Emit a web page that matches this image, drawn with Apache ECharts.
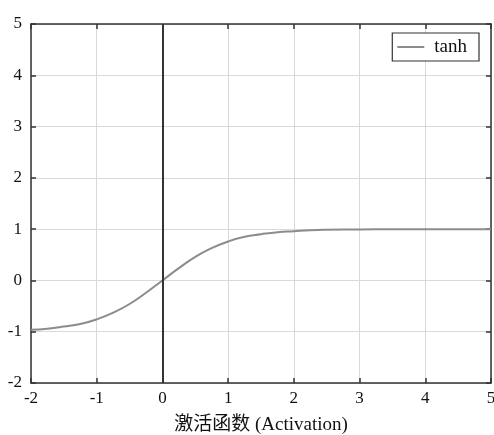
<!DOCTYPE html>
<html><head><meta charset="utf-8">
<script src="https://cdn.jsdelivr.net/npm/echarts@6/dist/echarts.min.js"></script>
<style>html,body{margin:0;padding:0;background:#fff}#c{width:494px;height:435px}</style>
</head><body><div id="c"></div>
<script>
const xValues = [-2, -1.75, -1.5, -1.25, -1, -0.75, -0.5, -0.25, 0, 0.25, 0.5, 0.75, 1, 1.25, 1.5, 1.75, 2, 2.25, 2.5, 3, 3.5, 4, 4.5, 5];
const tanhValues = [-0.96, -0.94, -0.9, -0.85, -0.76, -0.63, -0.46, -0.24, 0, 0.24, 0.46, 0.63, 0.76, 0.85, 0.9, 0.94, 0.96, 0.978, 0.987, 0.995, 0.998, 1, 1, 1];
const seriesName = 'tanh';
const xAxisName = '激活函数 (Activation)';

const chart = echarts.init(document.getElementById('c'));
const font = '"Liberation Serif", "Noto Sans CJK SC", serif';
const axisBase = {
  type: 'value', interval: 1,
  axisLine: {show: true, onZero: false, lineStyle: {color: '#333', width: 1.5}},
  axisTick: {show: true, inside: true, length: 5, lineStyle: {color: '#333', width: 1.5}},
  splitLine: {show: false}
};
chart.setOption({
  animation: false,
  grid: {left: 31, right: 3, top: 24, bottom: 52, containLabel: false, outerBoundsMode: 'none'},
  legend: {
    show: true, right: 15, top: 33, itemWidth: 27, itemHeight: 2, itemGap: 6,
    padding: [4, 12, 4, 5], borderColor: '#333', borderWidth: 1.2, backgroundColor: '#fff',
    icon: 'rect',
    textStyle: {fontFamily: font, fontSize: 19, lineHeight: 20, color: '#111', padding: [0, 0, 0, 5]},
    data: [seriesName]
  },
  xAxis: [
    Object.assign({}, axisBase, {
      min: -2, max: 5, position: 'bottom',
      axisLabel: {show: true, fontFamily: font, fontSize: 17, color: '#111', margin: 7},
      splitLine: {show: true, lineStyle: {color: '#d9d9d9', width: 1}},
      name: xAxisName, nameLocation: 'middle', nameGap: 33,
      nameTextStyle: {fontFamily: font, fontSize: 19, color: '#111'}
    }),
    Object.assign({}, axisBase, {min: -2, max: 5, position: 'top', axisLabel: {show: false}})
  ],
  yAxis: [
    Object.assign({}, axisBase, {
      min: -2, max: 5, position: 'left',
      axisLabel: {show: true, fontFamily: font, fontSize: 17, color: '#111', margin: 9, padding: [0, 0, 8, 0]},
      splitLine: {show: true, lineStyle: {color: '#d9d9d9', width: 1}}
    }),
    Object.assign({}, axisBase, {min: -2, max: 5, position: 'right', axisLabel: {show: false}})
  ],
  series: [{
    name: seriesName, type: 'line', smooth: true, showSymbol: false,
    data: xValues.map((x, i) => [x, tanhValues[i]]),
    lineStyle: {color: '#8c8c8c', width: 2},
    itemStyle: {color: '#8c8c8c'},
    markLine: {
      silent: true, symbol: 'none', label: {show: false},
      lineStyle: {color: '#333', width: 2, type: 'solid'},
      data: [{xAxis: 0}]
    }
  }]
});
</script></body></html>
